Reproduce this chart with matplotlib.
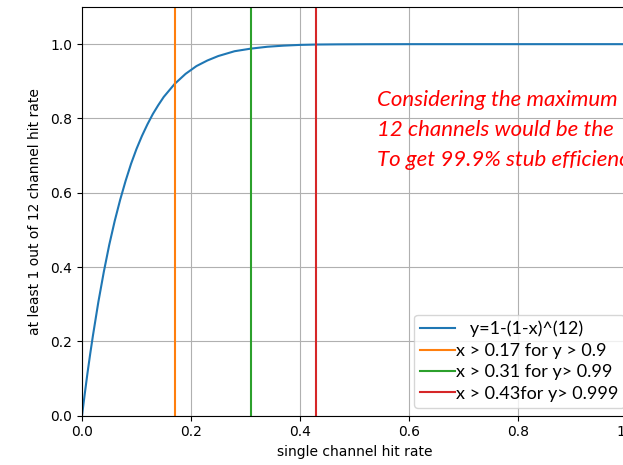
import matplotlib.pyplot as plt

x_rate = [0.0, 0.005, 0.01, 0.015, 0.02, 0.03, 0.04, 0.05, 0.06, 0.07, 0.08,
          0.09, 0.10, 0.11, 0.12, 0.13, 0.14, 0.15, 0.17, 0.19, 0.21, 0.23,
          0.25, 0.28, 0.31, 0.34, 0.37, 0.40, 0.43, 0.47, 0.52, 0.60, 0.70,
          0.80, 0.90, 1.0]
y_eff = [0.0, 0.058, 0.114, 0.166, 0.215, 0.306, 0.387, 0.460, 0.524, 0.581,
         0.632, 0.678, 0.718, 0.753, 0.784, 0.812, 0.836, 0.858, 0.893, 0.920,
         0.941, 0.956, 0.968, 0.981, 0.988, 0.993, 0.996, 0.998, 0.999, 0.9995,
         0.9998, 1.0, 1.0, 1.0, 1.0, 1.0]

cut_x = [0.17, 0.31, 0.43]
cut_labels = ['x > 0.17 for y > 0.9', 'x > 0.31 for y> 0.99',
              'x > 0.43for y> 0.999']
cut_colors = ['C1', 'C2', 'C3']

# the note runs off the right edge of the picture, as in the original
note_lines = ['Considering the maximum',
              '12 channels would be the',
              'To get 99.9% stub efficiency']

fig = plt.figure(figsize=(6.23, 4.65), dpi=100)
ax = fig.add_axes([82/623, 49.3/465, 545/623, 408.7/465])

ax.plot(x_rate, y_eff, color='C0', lw=1.5, label='   y=1-(1-x)^(12)')
for xc, lab, c in zip(cut_x, cut_labels, cut_colors):
    ax.axvline(xc, color=c, lw=1.5, label=lab)

ax.set_xlim(0, 1)
ax.set_ylim(0, 1.1)
ax.set_yticks([0.0, 0.2, 0.4, 0.6, 0.8, 1.0])
ax.grid(True)
ax.set_xlabel('single channel hit rate')
ax.set_ylabel('at least 1 out of 12 channel hit rate', labelpad=6)

leg = ax.legend(loc='lower left', bbox_to_anchor=(414/623, 57/465),
                bbox_transform=fig.transFigure, prop={'family': 'Lato', 'size': 13},
                handlelength=1.9, handletextpad=0.05, labelspacing=0.3,
                borderpad=0.35, borderaxespad=0, framealpha=0.8)

for i, line in enumerate(note_lines):
    fig.text(377/623, 1 - (100 + 30*i)/465, line, color='red', style='italic',
             family='Lato', fontsize=16, va='center', ha='left')

fig.savefig('out.png', dpi=100)
